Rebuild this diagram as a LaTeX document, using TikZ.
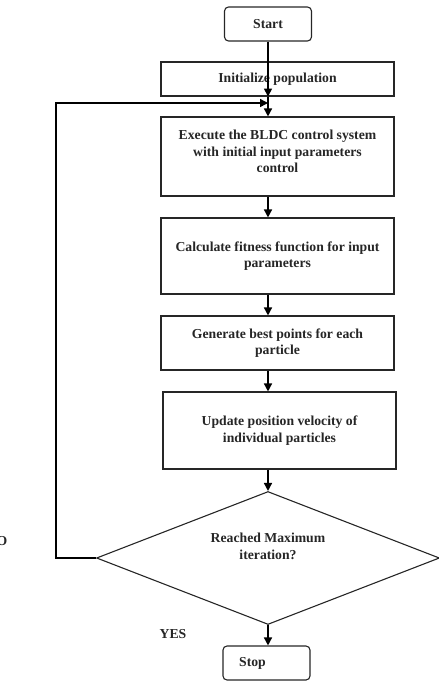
\documentclass[tikz,border=0pt]{standalone}
\usepackage{fontspec}
\setmainfont{Liberation Serif}
\usetikzlibrary{shapes.geometric,arrows.meta}
\begin{document}
\begin{tikzpicture}[x=1pt,y=-1pt,
  every node/.style={font=\fontsize{13.7}{16.7}\selectfont\bfseries, text=black!85},
  procbox/.style={draw=black!85, line width=1.1pt, minimum width=233pt, align=center, inner sep=0pt},
  termbox/.style={draw=black!85, line width=1.1pt, rounded corners=4pt, minimum width=87pt, minimum height=34pt, inner sep=0pt},
  decbox/.style={draw=black!85, line width=1.1pt, shape=diamond, minimum width=343pt, minimum height=133pt, inner sep=0pt},
  arr/.style={draw=black, line width=1.5pt, -{Triangle[length=8pt,width=8pt]}}
]
\useasboundingbox (0,0) rectangle (439,681);
\node[termbox] (start) at (268,24) {Start};
\node[procbox, minimum height=34pt] (init) at (277.5,79) {Initialize population};
\node[procbox, minimum height=79pt] (exec) at (277.5,156.5) {};
\node[align=center] (exectext) at (277.5,151.5) {Execute the BLDC control system\\with initial input parameters\\control};
\node[procbox, minimum height=76pt] (calc) at (277.5,256) {Calculate fitness function for input\\parameters};
\node[procbox, minimum height=54pt] (gen) at (277.5,343) {Generate best points for each\\particle};
\node[procbox, minimum height=77pt] (upd) at (279.5,430.5) {Update position velocity of\\individual particles};
\node[decbox] (dec) at (268,558) {};
\node[align=center] (dectext) at (268,546) {Reached Maximum\\iteration?};
\node[termbox] (stop) at (266.5,663) {};
\node (stoptext) at (252.5,663.5) {Stop};
\node (yes) at (173,634) {YES};
\node[anchor=east, inner sep=0pt] (no) at (7.5,541) {NO};
\coordinate (join) at (268,103);
\draw[arr] (start.south) -- (init.south -| start.south);
\draw[arr] (init.south -| start.south) -- (exec.north -| start.south);
\draw[arr] (exec.south -| start.south) -- (calc.north -| start.south);
\draw[arr] (calc.south -| start.south) -- (gen.north -| start.south);
\draw[arr] (gen.south -| start.south) -- (upd.north -| start.south);
\draw[arr] (upd.south -| start.south) -- (dec.north);
\draw[arr] (dec.south) -- (stop.north -| dec.south);
\draw[arr] (dec.west) -- ++(-40,0) |- (join);
\end{tikzpicture}
\end{document}
